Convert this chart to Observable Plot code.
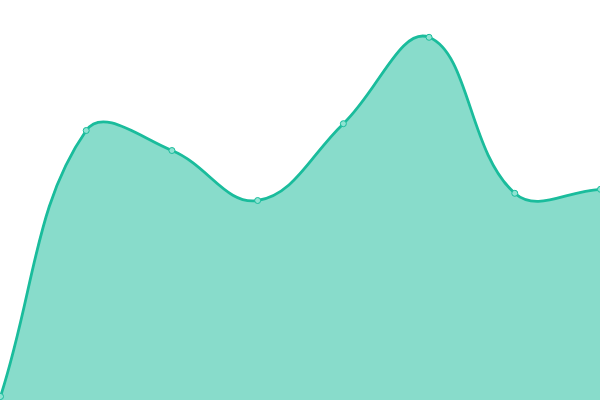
<!DOCTYPE html>
<html>
<head>
<meta charset="utf-8">
<script src="https://cdn.jsdelivr.net/npm/d3@7"></script>
<script src="https://cdn.jsdelivr.net/npm/@observablehq/plot@0.6"></script>
<style>
  html, body { margin: 0; padding: 0; background: #fff; }
  #chart svg { display: block; }
</style>
</head>
<body>
<div id="chart"></div>
<script>
const labels = ["A", "B", "C", "D", "E", "F", "G", "H"];
const values = [0, 66.5, 61.5, 49, 68.2, 89.8, 50.8, 51.8];
const yMin = -1;
const yMax = 99;
const tension = 0.4;

const data = labels.map((label, i) => ({ i, label, value: values[i] }));

// Spline curve with distance-weighted control points (tension 0.4)
function splineCurve(context) {
  return {
    _line: NaN,
    areaStart() { this._line = 0; },
    areaEnd() { this._line = NaN; },
    lineStart() { this._pts = []; },
    point(x, y) { this._pts.push([+x, +y]); },
    lineEnd() {
      const p = this._pts, n = p.length;
      if (n) {
        if (this._line) context.lineTo(p[0][0], p[0][1]);
        else context.moveTo(p[0][0], p[0][1]);
        if (n === 2) {
          context.lineTo(p[1][0], p[1][1]);
        } else if (n > 2) {
          const cp = p.map((cur, i) => {
            const prev = p[i - 1] || cur, next = p[i + 1] || cur;
            const d01 = Math.hypot(cur[0] - prev[0], cur[1] - prev[1]);
            const d12 = Math.hypot(next[0] - cur[0], next[1] - cur[1]);
            let s01 = d01 / (d01 + d12), s12 = d12 / (d01 + d12);
            s01 = isNaN(s01) ? 0 : s01; s12 = isNaN(s12) ? 0 : s12;
            const fa = tension * s01, fb = tension * s12;
            return {
              prev: [cur[0] - fa * (next[0] - prev[0]), cur[1] - fa * (next[1] - prev[1])],
              next: [cur[0] + fb * (next[0] - prev[0]), cur[1] + fb * (next[1] - prev[1])]
            };
          });
          for (let i = 1; i < n; i++) {
            const a = cp[i - 1].next, b = cp[i].prev;
            context.bezierCurveTo(a[0], a[1], b[0], b[1], p[i][0], p[i][1]);
          }
        }
      }
      if (this._line || (this._line !== 0 && n === 1)) context.closePath();
      this._line = 1 - this._line;
    }
  };
}

const chart = Plot.plot({
  width: 600,
  height: 400,
  margin: 0,
  x: { domain: [0, labels.length - 1], axis: null },
  y: { domain: [yMin, yMax], axis: null },
  marks: [
    Plot.areaY(data, { x: "i", y1: () => yMin, y2: "value", curve: splineCurve, fill: "#1abc9c", fillOpacity: 0.52 }),
    Plot.lineY(data, { x: "i", y: "value", curve: splineCurve, stroke: "#1abc9c", strokeWidth: 2.8 }),
    Plot.dot(data, { x: "i", y: "value", r: 3, fill: "#8fe3d2", stroke: "#1abc9c", strokeWidth: 1 })
  ]
});
document.getElementById("chart").appendChild(chart);
</script>
</body>
</html>
